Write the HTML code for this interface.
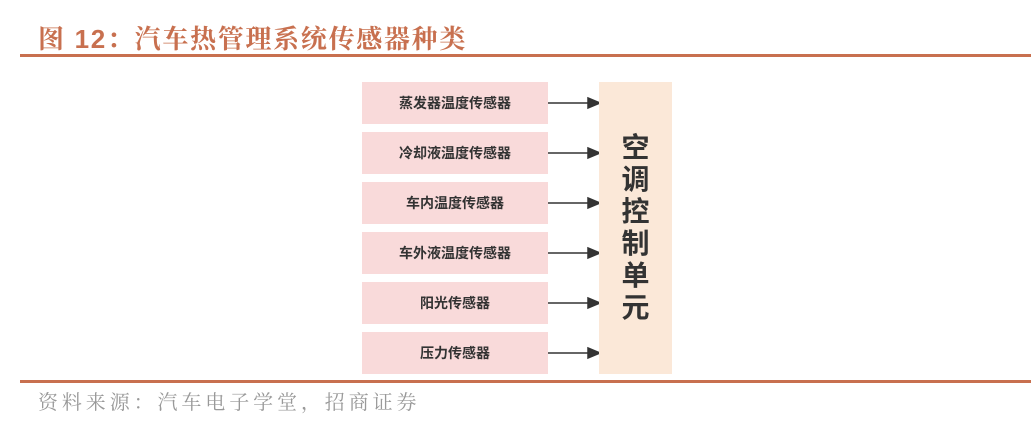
<!DOCTYPE html>
<html><head><meta charset="utf-8"><style>
body{margin:0;width:1031px;height:440px;background:#fff;position:relative;overflow:hidden;font-family:"Liberation Sans","Noto Sans CJK SC",sans-serif}
.t{position:absolute;left:38px;top:19px;font-size:26px;font-weight:bold;color:#c8704f;font-family:"Liberation Sans","Noto Serif CJK SC",serif;letter-spacing:1.7px}
.l{position:absolute;left:20px;right:0;height:3px;background:#c8704f}
.b{position:absolute;left:362px;width:186px;height:42px;background:#f9dada;font-size:14px;font-weight:bold;color:#333;display:flex;align-items:center;justify-content:center}
.c{position:absolute;left:599px;top:82px;width:73px;height:292px;background:#fbe8d8;font-size:28px;font-weight:bold;color:#333;display:flex;flex-direction:column;align-items:center;justify-content:center;line-height:32px}
.f{position:absolute;left:38px;top:386px;font-size:20px;color:#999;font-family:"Liberation Serif","Noto Serif CJK SC",serif;letter-spacing:3.9px}
</style></head><body>
<div class="t">图 12：汽车热管理系统传感器种类</div>
<div class="l" style="top:54px"></div>
<div class="b" style="top:82px">蒸发器温度传感器</div>
<div class="b" style="top:132px">冷却液温度传感器</div>
<div class="b" style="top:182px">车内温度传感器</div>
<div class="b" style="top:232px">车外液温度传感器</div>
<div class="b" style="top:282px">阳光传感器</div>
<div class="b" style="top:332px">压力传感器</div>
<svg style="position:absolute;left:0;top:0" width="1031" height="440">
<g stroke="#333" stroke-width="1.5" fill="#333">
<line x1="548" y1="103" x2="590" y2="103"/><polygon points="588,98 600,103 588,108"/>
<line x1="548" y1="153" x2="590" y2="153"/><polygon points="588,148 600,153 588,158"/>
<line x1="548" y1="203" x2="590" y2="203"/><polygon points="588,198 600,203 588,208"/>
<line x1="548" y1="253" x2="590" y2="253"/><polygon points="588,248 600,253 588,258"/>
<line x1="548" y1="303" x2="590" y2="303"/><polygon points="588,298 600,303 588,308"/>
<line x1="548" y1="353" x2="590" y2="353"/><polygon points="588,348 600,353 588,358"/>
</g></svg>
<div class="c"><span>空</span><span>调</span><span>控</span><span>制</span><span>单</span><span>元</span></div>
<div class="l" style="top:380px"></div>
<div class="f">资料来源：汽车电子学堂，招商证券</div>
</body></html>
